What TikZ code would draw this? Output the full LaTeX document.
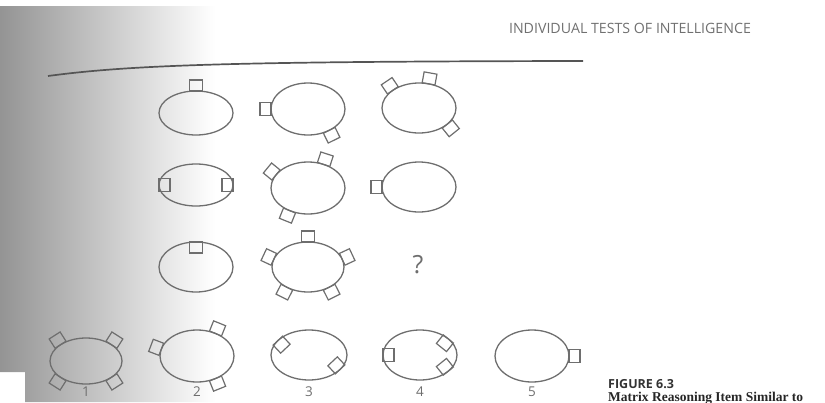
\documentclass[tikz,border=0pt]{standalone}
\usepackage{fontspec}
\setmainfont{Liberation Serif}
\setsansfont{Open Sans}
\usepackage{tikz}
\usetikzlibrary{calc}
\definecolor{inkGray}{HTML}{6E6E6E}
\definecolor{ruleGray}{HTML}{555555}
\definecolor{headGray}{HTML}{707070}
% ring with small square tabs: centre, x radius, y radius, list of angle/side (1 out, -1 in)
\newcommand{\tabbed}[4]{%
  \begin{scope}[shift={(#1)}]
    \draw[ring] (0,0) ellipse [x radius=#2, y radius=#3];
    \foreach \ang/\dir in {#4} {
      \pgfmathsetmacro\nrm{atan2(#2*sin(\ang), #3*cos(\ang))}
      \draw[tab, shift={(\ang:#2 and #3)}, rotate=\nrm] (0,-6.5) rectangle (\dir*11,6.5);
    }
  \end{scope}}

\begin{document}
\begin{tikzpicture}[x=1pt, y=1pt,
  ring/.style={draw=inkGray, line width=1.3pt},
  tab/.style={draw=inkGray, line width=1.2pt},
  pick/.style={text=inkGray, font=\sffamily\fontsize{13.5}{15}\selectfont},
]
  \useasboundingbox (0,0) rectangle (825,-402);
  \shade[left color=black!42, right color=white]
    (0,-6) -- (215,-6) -- (215,-402) -- (25,-402) -- (25,-372) -- (0,-372) -- cycle;

  \node[text=headGray, font=\sffamily\fontsize{14.2}{16}\selectfont] (head) at (630,-28)
    {INDIVIDUAL TESTS OF INTELLIGENCE};
  \draw[ruleGray, line width=1.7pt] (48,-76) .. controls (130,-65) and (230,-61.5) .. (583,-61);

  % matrix
  \coordinate (m11) at (196,-113);
  \coordinate (m12) at (308,-109);
  \coordinate (m13) at (419,-108);
  \coordinate (m21) at (196,-185);
  \coordinate (m22) at (308,-188);
  \coordinate (m23) at (419,-187);
  \coordinate (m31) at (196,-267);
  \coordinate (m32) at (308,-267);
  \tabbed{m11}{37}{22}{90/1}
  \tabbed{m12}{37}{26}{180/1, -55/1}
  \tabbed{m13}{37}{25}{135/1, 75/1, -40/1}
  \tabbed{m21}{37}{21}{180/-1, 0/-1}
  \tabbed{m22}{37}{26}{150/1, 65/1, -120/1}
  \tabbed{m23}{37}{25}{180/1}
  \tabbed{m31}{37}{25}{90/-1}
  \tabbed{m32}{36}{25}{90/1, 162/1, 234/1, 306/1, 18/1}
  \node[text=inkGray, font=\sffamily\fontsize{25}{28}\selectfont] (ask) at (418,-265) {?};

  % answer choices
  \coordinate (o1) at (86,-361);
  \coordinate (o2) at (197,-356);
  \coordinate (o3) at (309,-355);
  \coordinate (o4) at (420,-355);
  \coordinate (o5) at (532,-356);
  \tabbed{o1}{36}{23}{45/1, 135/1, 225/1, 315/1}
  \tabbed{o2}{37}{26}{165/1, 60/1, -60/1}
  \tabbed{o3}{38}{25}{145/-1, -35/-1}
  \tabbed{o4}{37}{25}{180/-1, 40/-1, -40/-1}
  \tabbed{o5}{37}{26}{0/1}
  \foreach \i in {1,...,5}
    \node[pick] (n\i) at ($(o\i |- 0,-392)$) {\i};

  \node[anchor=base west, inner sep=0, text=black!80,
    font=\sffamily\bfseries\fontsize{12.5}{14}\selectfont] (fig) at (608,-388) {FIGURE 6.3};
  \node[anchor=base west, inner sep=0, text=black!85,
    font=\bfseries\fontsize{13.5}{15}\selectfont] (cap) at (608,-401.5) {Matrix Reasoning Item Similar to};
\end{tikzpicture}
\end{document}
